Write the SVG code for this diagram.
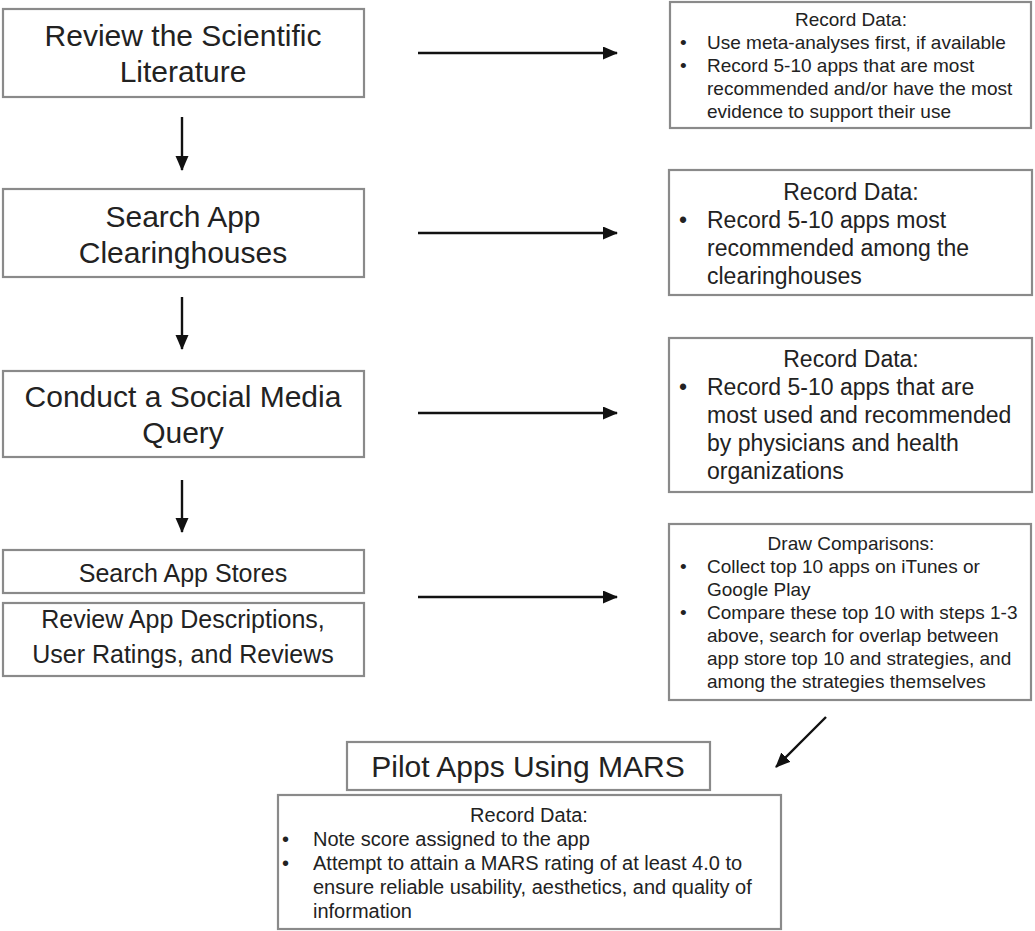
<svg xmlns="http://www.w3.org/2000/svg" width="1035" height="931" viewBox="0 0 1035 931">
<style>
.box{fill:#fff;stroke:#8a8a8a;stroke-width:2.2}
.t{font-family:"Liberation Sans",Arial,Helvetica,sans-serif;fill:#222}
.c{text-anchor:middle}
.big{font-size:30px}
.mid{font-size:25px}
.r1{font-size:19px}
.r2{font-size:23px}
.r5{font-size:20px}
.conn{stroke:#111;stroke-width:2.4;fill:none}
</style>
<defs>
<marker id="ah" markerUnits="userSpaceOnUse" markerWidth="16" markerHeight="14" refX="14" refY="6.5" orient="auto">
<path d="M0,0 L15,6.5 L0,13 Z" fill="#111"/>
</marker>
</defs>
<rect width="1035" height="931" fill="#fff"/>
<g id="n1"><rect class="box" x="3" y="9" width="361" height="88"/>
<text class="t c big" x="183" y="46">Review the Scientific</text>
<text class="t c big" x="183" y="82">Literature</text></g>
<g id="n2"><rect class="box" x="3" y="189" width="361" height="88"/>
<text class="t c big" x="183" y="227">Search App</text>
<text class="t c big" x="183" y="263">Clearinghouses</text></g>
<g id="n3"><rect class="box" x="3" y="371" width="361" height="86"/>
<text class="t c big" x="183" y="407">Conduct a Social Media</text>
<text class="t c big" x="183" y="443">Query</text></g>
<g id="n4a"><rect class="box" x="3" y="550" width="361" height="43"/>
<text class="t c mid" x="183" y="582">Search App Stores</text></g>
<g id="n4b"><rect class="box" x="3" y="603" width="361" height="73"/>
<text class="t c mid" x="183" y="628">Review App Descriptions,</text>
<text class="t c mid" x="183" y="663">User Ratings, and Reviews</text></g>
<g id="r1"><rect class="box" x="670" y="2" width="361" height="126"/>
<text class="t c r1" x="851" y="26">Record Data:</text>
<text class="t r1" x="680" y="49">•</text><text class="t r1" x="707" y="49">Use meta-analyses first, if available</text>
<text class="t r1" x="680" y="72">•</text><text class="t r1" x="707" y="72">Record 5-10 apps that are most</text>
<text class="t r1" x="707" y="95">recommended and/or have the most</text>
<text class="t r1" x="707" y="118">evidence to support their use</text></g>
<g id="r2"><rect class="box" x="669" y="170" width="363" height="125"/>
<text class="t c r2" x="851" y="200">Record Data:</text>
<text class="t r2" x="679" y="228">•</text><text class="t r2" x="707" y="228">Record 5-10 apps most</text>
<text class="t r2" x="707" y="256">recommended among the</text>
<text class="t r2" x="707" y="284">clearinghouses</text></g>
<g id="r3"><rect class="box" x="669" y="338" width="363" height="154"/>
<text class="t c r2" x="851" y="367">Record Data:</text>
<text class="t r2" x="679" y="395">•</text><text class="t r2" x="707" y="395">Record 5-10 apps that are</text>
<text class="t r2" x="707" y="423">most used and recommended</text>
<text class="t r2" x="707" y="451">by physicians and health</text>
<text class="t r2" x="707" y="479">organizations</text></g>
<g id="r4"><rect class="box" x="669" y="524" width="362" height="176"/>
<text class="t c r1" x="851" y="550">Draw Comparisons:</text>
<text class="t r1" x="680" y="573">•</text><text class="t r1" x="707" y="573">Collect top 10 apps on iTunes or</text>
<text class="t r1" x="707" y="596">Google Play</text>
<text class="t r1" x="680" y="619">•</text><text class="t r1" x="707" y="619">Compare these top 10 with steps 1-3</text>
<text class="t r1" x="707" y="642">above, search for overlap between</text>
<text class="t r1" x="707" y="665">app store top 10 and strategies, and</text>
<text class="t r1" x="707" y="688">among the strategies themselves</text></g>
<g id="n5"><rect class="box" x="347" y="742" width="363" height="48"/>
<text class="t c big" x="528" y="777">Pilot Apps Using MARS</text></g>
<g id="r5"><rect class="box" x="278" y="795" width="503" height="134"/>
<text class="t c r5" x="529" y="822">Record Data:</text>
<text class="t r5" x="282" y="846">•</text><text class="t r5" x="313" y="846">Note score assigned to the app</text>
<text class="t r5" x="282" y="870">•</text><text class="t r5" x="313" y="870">Attempt to attain a MARS rating of at least 4.0 to</text>
<text class="t r5" x="313" y="894">ensure reliable usability, aesthetics, and quality of</text>
<text class="t r5" x="313" y="918">information</text></g>
<g id="connectors">
<line class="conn" x1="182" y1="117" x2="182" y2="170" marker-end="url(#ah)"/>
<line class="conn" x1="182" y1="297" x2="182" y2="349" marker-end="url(#ah)"/>
<line class="conn" x1="182" y1="480" x2="182" y2="532" marker-end="url(#ah)"/>
<line class="conn" x1="418" y1="53" x2="617" y2="53" marker-end="url(#ah)"/>
<line class="conn" x1="418" y1="233" x2="617" y2="233" marker-end="url(#ah)"/>
<line class="conn" x1="418" y1="413" x2="617" y2="413" marker-end="url(#ah)"/>
<line class="conn" x1="418" y1="597" x2="617" y2="597" marker-end="url(#ah)"/>
<line class="conn" x1="826" y1="717" x2="776" y2="767" marker-end="url(#ah)"/>
</g>
</svg>
